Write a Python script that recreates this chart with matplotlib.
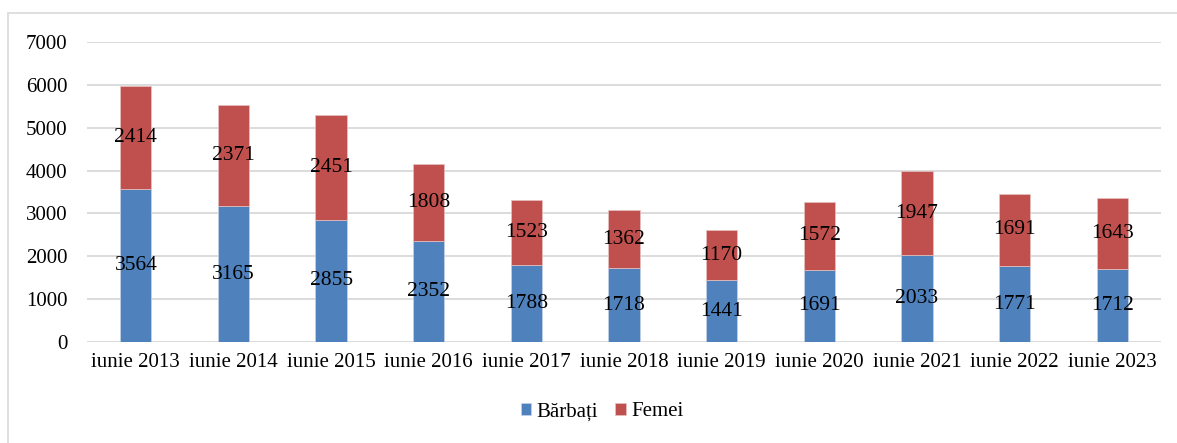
import numpy as np
import matplotlib as mpl
import matplotlib.pyplot as plt
from matplotlib.patches import Rectangle

mpl.rcParams['font.family'] = ['Liberation Serif', 'DejaVu Serif']

#--------------------------------------------------
# data
#--------------------------------------------------
years = ['iunie 2013', 'iunie 2014', 'iunie 2015', 'iunie 2016', 'iunie 2017', 'iunie 2018',
         'iunie 2019', 'iunie 2020', 'iunie 2021', 'iunie 2022', 'iunie 2023']
barbati = [3564, 3165, 2855, 2352, 1788, 1718, 1441, 1691, 2033, 1771, 1712]
femei = [2414, 2371, 2451, 1808, 1523, 1362, 1170, 1572, 1947, 1691, 1643]

#--------------------------------------------------
# plot
#--------------------------------------------------
fig = plt.figure(figsize=[11.77, 4.43], dpi=100)
ax = fig.add_axes([87/1177, 1-342/443, (1161-87)/1177, 300/443])

# border round the chart
fig.patches.append(Rectangle((8/1177, -0.1), 1.1, (443-13)/443 + 0.1, transform=fig.transFigure,
                             fill=False, ec='#d9d9d9', lw=1.2))

x = np.arange(len(years))
b1 = ax.bar(x, barbati, width=0.32, color='#4f81bd', ec='#c5d3e8', lw=0.5, label='Bărbați', zorder=3)
b2 = ax.bar(x, femei, width=0.32, bottom=barbati, color='#c0504d', ec='#e6c3c2', lw=0.5, label='Femei', zorder=3)
ax.bar_label(b1, label_type='center', fontsize=15.5, zorder=4)
ax.bar_label(b2, label_type='center', fontsize=15.5, zorder=4)

ax.set_xlim(-0.5, len(years) - 0.5)
ax.set_ylim(0, 7000)
ax.set_yticks(range(0, 7001, 1000))
ax.set_xticks(x)
ax.set_xticklabels(years)
ax.tick_params(axis='both', length=0, labelsize=15)
ax.tick_params(axis='y', pad=14)
ax.tick_params(axis='x', pad=8)
ax.grid(True, axis='y', color='#d9d9d9', lw=1.3, zorder=0)
for s in ax.spines.values():
    s.set_visible(False)

ax.legend(loc='center', bbox_to_anchor=(602/1177, 1-412/443), bbox_transform=fig.transFigure,
          ncol=2, frameon=False, fontsize=15, handlelength=0.5, handleheight=0.5,
          handletextpad=0.25, columnspacing=0.85)

plt.savefig('out.png', dpi=100)
